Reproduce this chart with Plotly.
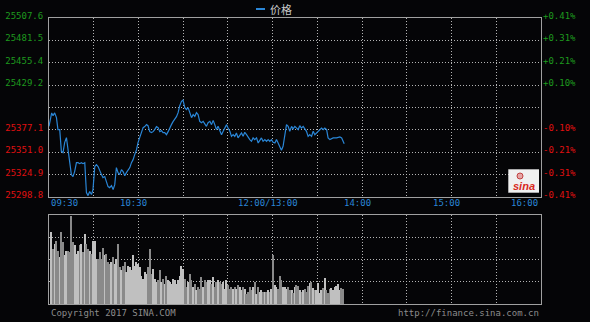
import numpy as np
import plotly.graph_objects as go

# ---------------- data ----------------
price_minutes = [0, 0.8, 1.8, 2.7, 3.8, 5.0, 6.0, 7.2, 8.3, 9.4, 10.5, 11.7, 12.8, 13.9, 15.0,
                 16.1, 17.2, 18.4, 19.5, 20.6, 21.7, 22.8, 24.0, 24.6, 25.1, 26.2, 27.3, 28.5, 29.5,
                 30.7, 31.8, 32.9, 34.0, 35.2, 36.2, 37.4, 38.5, 39.6, 40.7, 41.9, 43.0, 44.1, 45.2,
                 46.3, 47.4, 48.6, 49.7, 50.8, 51.9, 53.0, 54.2, 55.3, 56.4, 57.5, 58.7, 59.7, 60.9,
                 62.0, 63.1, 64.2, 65.4, 66.4, 67.6, 68.7, 69.8, 70.9, 72.1, 73.2, 74.3, 75.4, 76.5,
                 77.6, 78.8, 79.9, 81.0, 82.1, 83.2, 84.3, 85.5, 86.6, 87.7, 88.9, 89.9, 91.1, 92.2,
                 93.3, 94.4, 95.6, 96.7, 97.8, 98.9, 100.0, 101.1, 102.3, 103.4, 104.5, 105.6, 106.7,
                 107.9, 109.0, 110.1, 111.2, 112.3, 113.4, 114.6, 115.7, 116.8, 117.9, 119.1, 120.1,
                 121.3, 122.4, 123.5, 124.6, 125.7, 126.8, 128.0, 129.1, 130.2, 131.3, 132.5, 133.6,
                 134.7, 135.8, 136.9, 138.0, 139.2, 140.3, 141.4, 142.5, 143.6, 144.8, 145.9, 147.0,
                 148.1, 149.2, 150.3, 151.5, 152.6, 153.7, 154.8, 155.9, 157.0, 158.2, 159.3, 160.4,
                 161.5, 162.7, 163.7, 164.9, 166.0, 167.1, 168.2, 169.3, 170.5, 171.6, 172.7, 173.8,
                 174.9, 176.1, 177.2, 178.3, 179.5, 180.5, 181.7, 182.8, 183.9, 185.0, 186.2, 187.2,
                 188.4, 190.6, 192.9, 195.1, 196.3, 197.3, 198.0]

prices = [25381.0, 25388.8, 25396.7, 25393.5, 25396.7, 25391.2, 25377.2, 25377.2, 25351.8, 25350.3,
          25362.0, 25367.8, 25353.8, 25342.1, 25324.6,
          25322.3, 25328.1, 25338.6, 25338.6, 25337.4, 25338.6, 25337.4, 25338.6, 25318.8, 25303.6,
          25300.1, 25304.8, 25301.3, 25307.1,
          25334.0, 25336.3, 25334.0, 25330.4, 25324.6, 25321.1, 25322.3, 25316.4, 25310.6, 25309.4,
          25311.8, 25307.1, 25312.9, 25332.8,
          25326.9, 25324.6, 25330.4, 25328.1, 25323.4, 25326.9, 25330.4, 25332.8, 25338.6, 25342.1,
          25348.0, 25353.8, 25362.0, 25369.0,
          25374.8, 25379.5, 25380.7, 25383.0, 25381.8, 25374.8, 25373.7, 25374.8, 25377.2, 25380.7,
          25379.5, 25374.8, 25376.0, 25373.7,
          25373.7, 25371.3, 25374.8, 25379.5, 25383.0, 25386.5, 25388.8, 25392.3, 25397.0, 25405.2,
          25410.2, 25411.6, 25402.9, 25400.5,
          25402.9, 25397.0, 25391.2, 25394.7, 25392.7, 25397.0, 25394.7, 25386.9, 25385.3, 25386.9,
          25383.0, 25381.0, 25385.3,
          25386.9, 25383.0, 25388.0, 25383.0, 25377.2, 25381.0, 25375.2, 25371.3, 25375.2, 25379.1,
          25383.0, 25379.1,
          25375.2, 25369.3, 25371.3, 25369.3, 25373.3, 25367.5, 25371.3, 25373.3, 25369.3, 25374.0,
          25371.3, 25367.5,
          25365.5, 25363.5, 25367.5, 25365.5, 25367.5, 25361.6, 25365.5, 25367.5, 25363.5, 25365.5,
          25363.5, 25365.5,
          25363.5, 25365.5, 25362.3, 25361.6, 25365.5, 25361.6, 25355.8, 25353.0, 25357.7, 25373.3,
          25383.0, 25381.0,
          25375.2, 25381.0, 25378.0, 25381.0, 25379.1, 25377.2, 25381.8, 25379.1, 25381.0, 25377.2,
          25375.2, 25369.3,
          25371.3, 25369.3, 25375.2, 25371.3, 25373.3, 25375.2, 25377.2, 25379.1, 25377.2, 25379.1,
          25377.2, 25367.5,
          25365.5, 25367.5, 25367.5, 25368.6, 25367.5, 25363.5, 25360.8]

vol_minutes = [1.6, 2.7, 3.8, 4.9, 6.1, 7.2, 8.3, 9.4, 10.5, 11.7,
               12.8, 13.9, 15.0, 16.1, 17.2, 18.4, 19.5, 20.6, 21.7, 22.8,
               24.0, 25.1, 26.2, 27.3, 28.4, 29.6, 30.7, 31.8, 32.9, 34.0,
               35.1, 36.3, 37.4, 38.5, 39.6, 40.7, 41.9, 43.0, 44.1, 45.2,
               46.3, 47.4, 48.6, 49.7, 50.8, 51.9, 53.0, 54.2, 55.3, 56.4,
               57.5, 58.6, 59.8, 60.9, 62.0, 63.1, 64.2, 65.3, 66.5, 67.6,
               68.7, 69.8, 70.9, 72.1, 73.2, 74.3, 75.4, 76.5, 77.6, 78.8,
               79.9, 81.0, 82.1, 83.2, 84.4, 85.5, 86.6, 87.7, 88.8, 89.9,
               91.1, 92.2, 93.3, 94.4, 95.5, 96.7, 97.8, 98.9, 100.0, 101.1,
               102.3, 103.4, 104.5, 105.6, 106.7, 107.8, 109.0, 110.1, 111.2, 112.3,
               113.4, 114.6, 115.7, 116.8, 117.9, 119.0, 120.2, 121.3, 122.4, 123.5,
               124.6, 125.7, 126.9, 128.0, 129.1, 130.2, 131.3, 132.5, 133.6, 134.7,
               135.8, 136.9, 138.0, 139.2, 140.3, 141.4, 142.5, 143.6, 144.8, 145.9,
               147.0, 148.1, 149.2, 150.4, 151.5, 152.6, 153.7, 154.8, 155.9, 157.1,
               158.2, 159.3, 160.4, 161.5,
               162.7, 163.8, 164.9, 166.0, 167.1, 168.2, 169.4, 170.5, 171.6, 172.7,
               173.8, 174.9, 176.1, 177.2, 178.3, 179.4, 180.5, 181.7, 182.8, 183.9,
               185.0, 186.1, 187.2, 188.4, 189.5, 190.6, 191.7, 192.8, 194.0, 195.1,
               196.2, 197.3]

volumes = [3.22, 2.48, 2.70, 2.81, 2.40, 2.10, 3.25, 2.78, 2.18, 2.36,
           2.40, 2.33, 3.97, 2.78, 2.63, 2.25, 2.40, 2.63, 2.70, 2.33,
           3.15, 2.70, 2.48, 2.40, 2.25, 2.85, 2.85, 2.03, 2.03, 2.33,
           2.03, 2.51, 2.18, 2.25, 1.88, 1.81, 1.88, 2.10, 1.81, 2.03,
           2.70, 1.66, 1.51, 1.73, 1.88, 1.43, 1.73, 1.66, 1.51, 2.18,
           1.73, 1.88, 1.81, 1.66, 1.28, 1.13, 1.43, 1.36, 1.66, 2.48,
           1.36, 1.58, 1.13, 0.99, 1.06, 1.51, 0.99, 1.13, 0.91, 1.28,
           1.06, 0.99, 0.91, 1.13, 1.06, 0.91, 1.06, 1.28, 1.73, 1.58,
           1.13, 0.76, 0.99, 1.36, 1.06, 0.76, 0.91, 0.61, 0.76, 0.69,
           1.21, 0.76, 1.06, 0.99, 1.06, 1.06, 0.91, 1.21, 0.76, 0.99,
           1.06, 0.99, 0.91, 0.99, 0.69, 1.06, 0.84, 0.69, 0.76, 0.69,
           0.76, 0.69, 0.84, 0.76, 0.61, 0.76, 0.69, 0.46, 0.54, 0.76,
           0.61, 0.76, 0.99, 0.46, 0.76, 0.54, 0.61, 0.54, 0.54, 0.54,
           0.61, 0.54, 0.69, 2.18, 0.84, 0.76, 0.69, 1.28, 1.06, 0.76,
           0.76, 0.69, 0.76, 0.61,
           0.63, 0.48, 0.75, 0.85, 0.81, 0.63, 0.55, 0.63, 0.66, 0.55,
           0.81, 0.93, 1.00, 0.70, 0.63, 0.63, 0.93, 0.48, 0.63, 0.70,
           1.19, 0.63, 0.48, 0.66, 0.70, 0.63, 0.75, 0.81, 0.90, 0.63,
           0.70, 0.66]

price_ticks = [25298.8, 25324.9, 25351.0, 25377.1, 25403.2, 25429.2, 25455.4, 25481.5, 25507.6]
price_tick_labels = ["25298.8", "25324.9", "25351.0", "25377.1", "", "25429.2", "25455.4", "25481.5", "25507.6"]
pct_tick_labels = ["-0.41%", "-0.31%", "-0.21%", "-0.10%", "", "+0.10%", "+0.21%", "+0.31%", "+0.41%"]
grid_minutes = [0, 30, 60, 90, 120, 150, 180, 210, 240, 270, 300, 330]
time_label_minutes = [0, 60, 150, 210, 270, 330]
time_labels = ["09:30", "10:30", "12:00/13:00", "14:00", "15:00", "16:00"]
vol_ticks = [0, 1, 2, 3, 4]

# ---------------- styling ----------------
BG = "#050507"
GRID = "#b4b4b4"
GRIDDASH = "1px,2px"
BORDER = "#a0a0a0"
BLUE = "#2a86d6"
GREEN = "#1e9a1e"
RED = "#e01010"
MONO = "DejaVu Sans Mono"
W, H = 590, 322
ML, MR, MT, MB = 49, 49, 18, 18
PW, PH = W - ML - MR, H - MT - MB


def px_x(x):
    return (x - ML) / PW


def px_y(y):
    return (H - MB - y) / PH


ref = price_ticks[4]
left_text = [f"<span style='color:{GREEN if v > ref else RED}'>{t}</span>" if t else ""
             for v, t in zip(price_ticks, price_tick_labels)]
right_text = [f"<span style='color:{GREEN if v > ref else RED}'>{t}</span>" if t else ""
              for v, t in zip(price_ticks, pct_tick_labels)]

# bar colours from price direction
LIGHT, DARK = "#c0c0c0", "#8a8a8a"
p_at = np.interp(vol_minutes, price_minutes, prices)
bar_colors = [LIGHT]
for i in range(1, len(p_at)):
    bar_colors.append(LIGHT if p_at[i] >= p_at[i - 1] - 1.0 else DARK)

fig = go.Figure()
fig.add_trace(go.Scatter(x=price_minutes, y=prices, mode="lines",
                         line=dict(color=BLUE, width=1.2), xaxis="x", yaxis="y",
                         showlegend=False, hoverinfo="skip"))
fig.add_trace(go.Bar(x=vol_minutes, y=volumes, width=0.75,
                     marker=dict(color=bar_colors, line=dict(width=0)),
                     xaxis="x2", yaxis="y2", showlegend=False, hoverinfo="skip"))
# invisible trace for right axis
fig.add_trace(go.Scatter(x=[price_minutes[0]], y=[prices[0]], mode="lines",
                         line=dict(width=0), xaxis="x", yaxis="y3",
                         showlegend=False, hoverinfo="skip"))

pr_bottom = px_y(196.7)
vol_top = px_y(215)

common_x = dict(range=[0, 330], tickvals=grid_minutes, showticklabels=False, ticks="",
                showgrid=True, gridcolor=GRID, griddash=GRIDDASH, gridwidth=1,
                showline=True, linecolor=BORDER, linewidth=1, mirror=True, zeroline=False,
                fixedrange=True, automargin=False)

fig.update_layout(
    width=W, height=H,
    margin=dict(l=ML, r=MR, t=MT, b=MB, pad=0, autoexpand=False),
    paper_bgcolor=BG, plot_bgcolor=BG,
    bargap=0,
    xaxis=dict(domain=[0, 1], anchor="y", **common_x),
    xaxis2=dict(domain=[0, 1], anchor="y2", **common_x),
    yaxis=dict(domain=[pr_bottom, 1], range=[price_ticks[0], price_ticks[-1]],
               tickvals=price_ticks, ticktext=left_text, ticks="",
               tickfont=dict(family=MONO, size=9, color=GREEN),
               showgrid=True, gridcolor=GRID, griddash=GRIDDASH, gridwidth=1,
               showline=True, linecolor=BORDER, linewidth=1, mirror=True, zeroline=False,
               ticklabelstandoff=3, ticklabelshift=-2, automargin=False),
    yaxis3=dict(overlaying="y", side="right", anchor="x", range=[price_ticks[0], price_ticks[-1]],
                tickvals=price_ticks, ticktext=right_text, ticks="",
                tickfont=dict(family=MONO, size=9, color=GREEN),
                showgrid=False, showline=False, zeroline=False, ticklabelstandoff=1,
                ticklabelshift=-2, automargin=False),
    yaxis2=dict(domain=[0, vol_top], range=[vol_ticks[0], vol_ticks[-1]], tickvals=vol_ticks,
                showticklabels=False, ticks="",
                showgrid=True, gridcolor=GRID, griddash=GRIDDASH, gridwidth=1,
                showline=True, linecolor=BORDER, linewidth=1, mirror=True, zeroline=False,
                automargin=False),
)

# time labels between the two panels
for i, (m, t) in enumerate(zip(time_label_minutes, time_labels)):
    if i == 0:
        xa, xs = "left", 0
    elif i == len(time_labels) - 1:
        xa, xs = "right", -1
    else:
        xa, xs = "center", -5
    fig.add_annotation(x=m, xref="x", y=px_y(203.5), yref="paper", text=t, showarrow=False,
                       xanchor=xa, yanchor="middle", xshift=xs,
                       font=dict(family=MONO, size=9, color=BLUE))

# footer texts
fig.add_annotation(x=0, xref="paper", y=px_y(313), yref="paper", text="Copyright 2017 SINA.COM",
                   showarrow=False, xanchor="left", yanchor="middle",
                   font=dict(family=MONO, size=9, color="#8c8c8c"))
fig.add_annotation(x=1, xref="paper", y=px_y(313), yref="paper", text="http://finance.sina.com.cn",
                   showarrow=False, xanchor="right", yanchor="middle",
                   font=dict(family=MONO, size=9, color="#8c8c8c"))

# legend
fig.add_shape(type="line", xref="paper", yref="paper", x0=px_x(256), x1=px_x(265),
              y0=px_y(9), y1=px_y(9), line=dict(color=BLUE, width=2))
fig.add_annotation(x=px_x(268), xref="paper", y=px_y(8.5), yref="paper", text="价格",
                   showarrow=False, xanchor="left", yanchor="middle",
                   font=dict(family="Noto Sans CJK SC", size=11, color="#c8c8c8"))

# sina logo box
fig.add_shape(type="rect", xref="paper", yref="paper", x0=px_x(508.3), x1=px_x(539),
              y0=px_y(192.7), y1=px_y(169.3), fillcolor="#f0f0f0", line=dict(width=0))
fig.add_shape(type="circle", xref="paper", yref="paper", x0=px_x(517), x1=px_x(523),
              y0=px_y(179), y1=px_y(173), fillcolor="#e6a6a6", line=dict(color="#c04040", width=1))
fig.add_annotation(x=px_x(523.5), xref="paper", y=px_y(186), yref="paper",
                   text="<b><i>sina</i></b>", showarrow=False, xanchor="center", yanchor="middle",
                   font=dict(family="Liberation Sans", size=11, color="#d8281c"))

fig.write_html("out.html")
